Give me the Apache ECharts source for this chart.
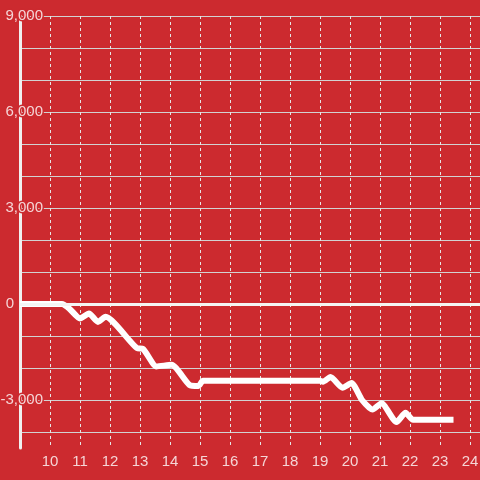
<!DOCTYPE html>
<html>
<head>
<meta charset="utf-8">
<script src="https://cdn.jsdelivr.net/npm/echarts@6/dist/echarts.min.js"></script>
<style>
  html, body { margin: 0; padding: 0; background: #cc2a2f; }
  #chart { width: 480px; height: 480px; }
</style>
</head>
<body>
<div id="chart"></div>
<script>
// hour of day vs running value
const hours = [9, 10.4, 10.65, 11.0, 11.3, 11.6, 11.85, 12.9, 13.1, 13.55, 14.05, 14.65, 14.95, 15.1, 19.0, 19.1, 19.35, 19.75, 20.05, 20.4, 20.75, 21.05, 21.55, 21.85, 22.1, 23.45];
const values = [0, 0, -150, -450, -300, -560, -400, -1380, -1400, -1950, -1900, -2530, -2560, -2400, -2400, -2430, -2280, -2620, -2470, -3000, -3300, -3100, -3690, -3400, -3620, -3620];
const yLabelValues = [-3000, 0, 3000, 6000, 9000];

const labelColor = '#f5d5d6';
const bg = '#cc2a2f';
const font = 'Liberation Sans, Arial, sans-serif';

const chart = echarts.init(document.getElementById('chart'));

chart.setOption({
  backgroundColor: bg,
  animation: false,
  grid: {left: 20, right: 0, top: 16, bottom: 32, containLabel: false, outerBoundsMode: 'none'},
  xAxis: {
    type: 'value',
    min: 9,
    max: 24.333,
    interval: 1,
    axisLine: {show: false},
    axisTick: {show: false},
    axisLabel: {
      color: labelColor,
      fontSize: 15,
      fontFamily: font,
      margin: 6,
      showMinLabel: false,
      showMaxLabel: false
    },
    splitLine: {
      show: true,
      lineStyle: {color: '#e6e6e6', width: 1, type: [3, 3]}
    }
  },
  yAxis: {
    type: 'value',
    min: -4500,
    max: 9000,
    interval: 500,
    axisLine: {show: true, lineStyle: {color: '#f0f0f0', width: 3}},
    axisTick: {show: false},
    axisLabel: {
      color: labelColor,
      fontSize: 15,
      fontFamily: font,
      align: 'right',
      margin: -23,
      textBorderColor: bg,
      textBorderWidth: 3,
      formatter: function (v) {
        if (yLabelValues.indexOf(v) < 0) return '';
        if (v === 0) return '{z|0}';
        return v.toLocaleString('en-US');
      },
      rich: {
        z: {
          color: labelColor,
          fontSize: 15,
          fontFamily: font,
          textBorderColor: bg,
          textBorderWidth: 3,
          padding: [0, 29, 0, 0]
        }
      }
    },
    splitLine: {
      show: true,
      lineStyle: {color: ['rgba(0,0,0,0)', '#d2d2d2'], width: 1}
    }
  },
  series: [{
    type: 'line',
    data: hours.map((h, i) => [h, values[i]]),
    showSymbol: false,
    smooth: 0.2,
    lineStyle: {color: '#ffffff', width: 6},
    z: 3,
    markLine: {
      silent: true,
      symbol: 'none',
      label: {show: false},
      lineStyle: {color: '#f4f4f4', width: 3, type: 'solid'},
      data: [{yAxis: 0}]
    }
  }]
});
</script>
</body>
</html>
